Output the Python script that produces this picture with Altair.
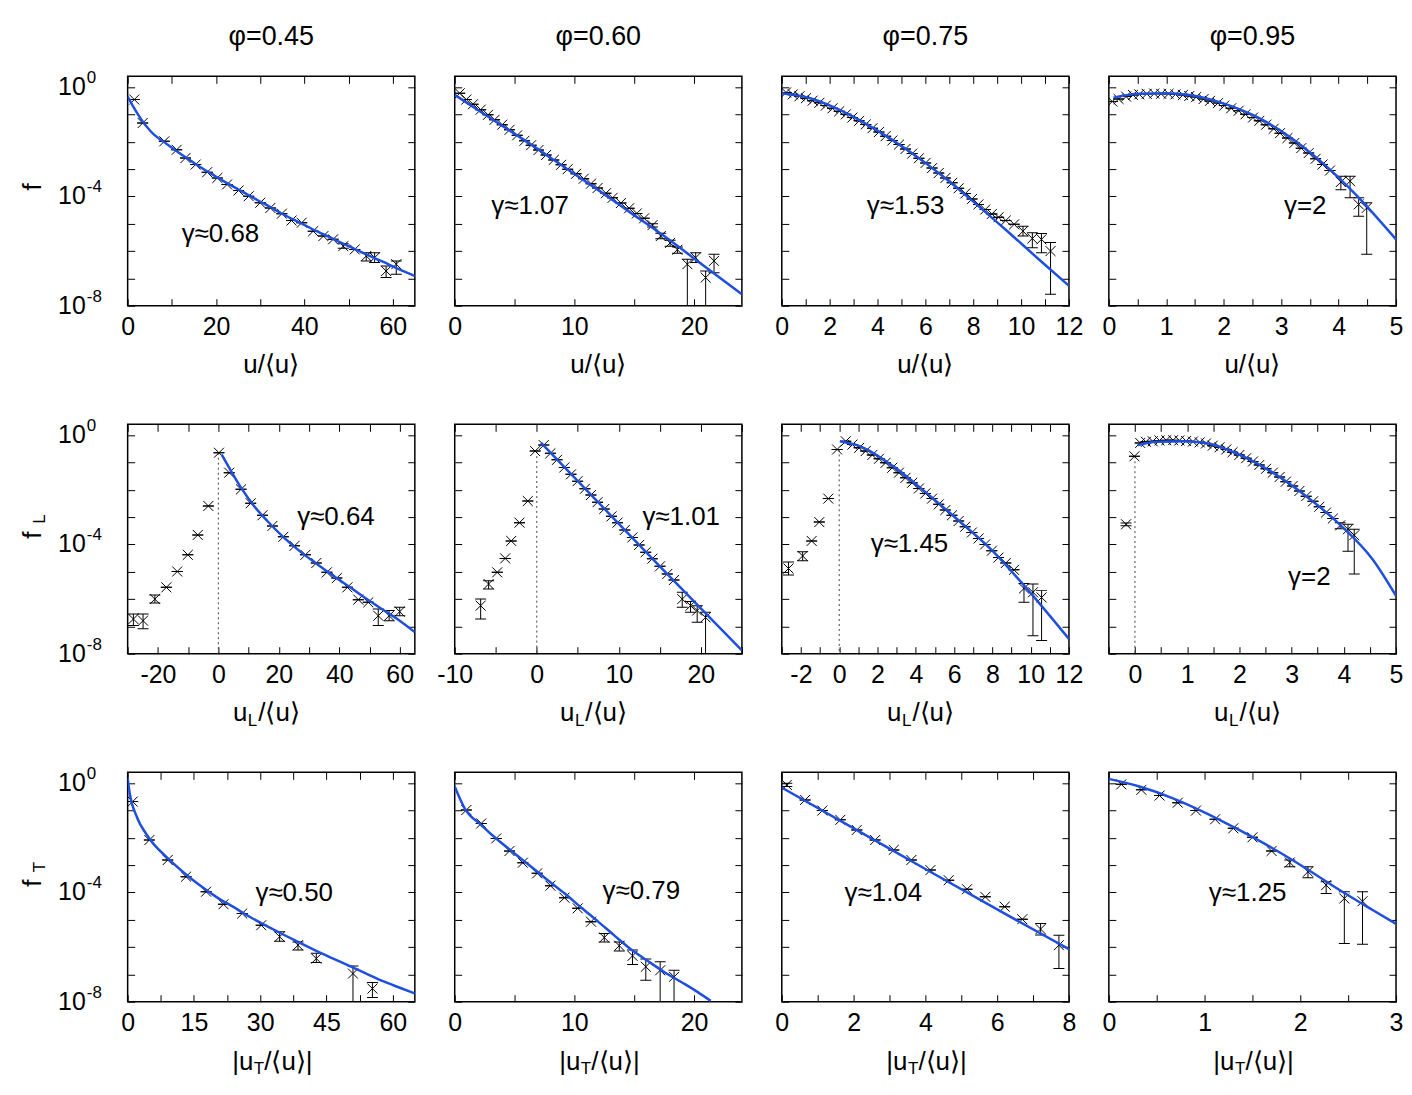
import json
import math
import altair as alt
import pandas as pd

FONT = "Liberation Sans"
W, H = 288, 230
FS = 25          # tick labels
FT = 26          # axis titles and annotations
FC = 27          # column titles
BLUE = "#1f4fe0"
YMIN, YMAX = 1e-8, 10 ** 0.4
XSHAPE = "M-1,-1L1,1M-1,1L1,-1"

# ---------------- titles / labels ----------------
phi_titles = ["φ=0.45", "φ=0.60", "φ=0.75", "φ=0.95"]
x_title_parts = [("u/⟨u⟩", "", ""), ("u", "L", "/⟨u⟩"), ("|u", "T", "/⟨u⟩|")]
y_title_parts = [("f", ""), ("f", "L"), ("f", "T")]
ylabel_exps = [0, -4, -8]

x_domains = [[(0, 65), (0, 24), (0, 12), (0, 5)],
             [(-30, 65), (-10, 25), (-3, 12), (-0.5, 5)],
             [(0, 65), (0, 24), (0, 8), (0, 3)]]
x_labels = [[[0, 20, 40, 60], [0, 10, 20], [0, 2, 4, 6, 8, 10, 12], [0, 1, 2, 3, 4, 5]],
            [[-20, 0, 20, 40, 60], [-10, 0, 10, 20], [-2, 0, 2, 4, 6, 8, 10, 12], [0, 1, 2, 3, 4, 5]],
            [[0, 15, 30, 45, 60], [0, 10, 20], [0, 2, 4, 6, 8], [0, 1, 2, 3]]]
x_minor = [[10, 5, 1, 0.5], [10, 5, 1, 0.5], [7.5, 5, 1, 0.5]]

gamma_texts = [["γ≈0.68", "γ≈1.07", "γ≈1.53", "γ=2"],
               ["γ≈0.64", "γ≈1.01", "γ≈1.45", "γ=2"],
               ["γ≈0.50", "γ≈0.79", "γ≈1.04", "γ≈1.25"]]
gamma_x = [[21.0, 6.3, 5.17, 3.42], [38.9, 17.6, 3.67, 3.34], [37.7, 15.6, 2.83, 1.45]]
gamma_lf = [[-5.38, -4.35, -4.35, -4.35], [-3.0, -3.0, -3.99, -5.19], [-4.01, -3.94, -4.01, -4.01]]

# ---------------- data (x, log10 f, error bars in log10 f, fit curve) ----------------
r1c1_x = [1.5, 3.4, 8.3, 11.1, 13.1, 15.4, 18.0, 20.3, 22.5, 25.1, 27.4, 30.0, 32.3, 34.9, 37.1, 39.4, 42.0,
          44.3, 46.5, 48.8, 51.4, 54.0, 55.9, 58.5, 60.8]
r1c1_lf = [-0.45, -1.31, -1.98, -2.29, -2.59, -2.83, -3.11, -3.32, -3.56, -3.78, -3.99, -4.23, -4.42, -4.63,
           -4.88, -4.96, -5.27, -5.45, -5.57, -5.82, -5.94, -6.18, -6.24, -6.73, -6.48]
r1c1_err = {19: (-5.73, -5.90), 21: (-6.06, -6.36), 22: (-6.06, -6.42), 23: (-6.55, -6.97), 24: (-6.36, -6.85)}
r1c1_fx = [0, 1.5, 3.4, 5.25, 9.0, 12.75, 16.5, 20.25, 24.0, 27.75, 31.5, 35.25, 39.0, 42.75, 46.5, 50.25,
           54.0, 57.75, 61.5, 65.0]
r1c1_flf = [-0.34, -0.77, -1.25, -1.62, -2.10, -2.53, -2.93, -3.30, -3.65, -3.99, -4.32, -4.66, -4.96, -5.27,
            -5.55, -5.84, -6.12, -6.39, -6.67, -6.91]

r1c2_x = [0.42, 0.97, 1.53, 2.17, 2.78, 3.33, 3.97, 4.58, 5.22, 5.83, 6.39, 7.0, 7.64, 8.28, 8.89, 9.44, 10.14,
          10.78, 11.39, 11.94, 12.64, 13.19, 13.89, 14.58, 15.22, 15.83, 16.53, 17.22, 18.0, 18.61, 19.44,
          20.14, 20.97, 21.67]
r1c2_lf = [-0.22, -0.45, -0.62, -0.82, -1.01, -1.19, -1.37, -1.56, -1.76, -1.96, -2.12, -2.30, -2.48, -2.66,
           -2.84, -3.00, -3.17, -3.35, -3.53, -3.69, -3.88, -4.05, -4.24, -4.43, -4.62, -4.80, -5.05, -5.45,
           -5.70, -5.95, -6.48, -6.24, -6.97, -6.36]
r1c2_err = {26: (-5.0, -5.12), 27: (-5.35, -5.55), 28: (-5.6, -5.82), 29: (-5.85, -6.08), 30: (-6.30, -9.0),
            31: (-6.06, -6.42), 32: (-6.73, -9.0), 33: (-6.12, -6.79)}
r1c2_fx = [0, 3.61, 6.39, 9.17, 11.94, 14.72, 17.5, 20.28, 24.0]
r1c2_flf = [-0.28, -1.31, -2.10, -2.93, -3.75, -4.60, -5.45, -6.36, -7.58]

r1c3_x = [0.18, 0.46, 0.74, 1.01, 1.29, 1.57, 1.84, 2.12, 2.40, 2.68, 2.95, 3.23, 3.51, 3.79, 4.06, 4.34, 4.62,
          4.90, 5.17, 5.45, 5.73, 6.01, 6.28, 6.56, 6.84, 7.12, 7.39, 7.67, 7.95, 8.22, 8.50, 8.78, 9.06, 9.36,
          9.71, 10.08, 10.47, 10.85, 11.23]
r1c3_lf = [-0.19, -0.26, -0.33, -0.40, -0.49, -0.57, -0.67, -0.77, -0.88, -0.99, -1.11, -1.23, -1.36, -1.50,
           -1.64, -1.79, -1.95, -2.10, -2.26, -2.43, -2.60, -2.77, -2.96, -3.14, -3.32, -3.50, -3.70, -3.89,
           -4.09, -4.29, -4.48, -4.64, -4.76, -4.88, -5.02, -5.27, -5.54, -5.57, -6.00]
r1c3_err = {35: (-5.09, -5.45), 36: (-5.33, -5.88), 37: (-5.36, -6.06), 38: (-5.69, -7.58)}
r1c3_fx = [0, 1.18, 2.57, 3.95, 5.34, 6.73, 8.11, 9.5, 10.89, 12.0]
r1c3_flf = [-0.22, -0.40, -0.89, -1.56, -2.35, -3.26, -4.27, -5.33, -6.42, -7.27]

r1c4_x = [0.06, 0.17, 0.30, 0.42, 0.53, 0.66, 0.79, 0.91, 1.04, 1.16, 1.29, 1.40, 1.52, 1.65, 1.76, 1.90, 2.01,
          2.13, 2.26, 2.38, 2.51, 2.62, 2.74, 2.87, 2.98, 3.11, 3.23, 3.35, 3.48, 3.60, 3.72, 3.85, 4.04, 4.20,
          4.35, 4.49]
r1c4_lf = [-0.52, -0.43, -0.34, -0.28, -0.26, -0.24, -0.23, -0.24, -0.24, -0.26, -0.28, -0.32, -0.36, -0.43,
           -0.50, -0.58, -0.67, -0.77, -0.86, -0.99, -1.11, -1.23, -1.37, -1.52, -1.68, -1.86, -2.04, -2.23,
           -2.41, -2.62, -2.83, -3.05, -3.47, -3.44, -4.29, -4.42]
r1c4_err = {32: (-3.26, -3.75), 33: (-3.26, -4.05), 34: (-4.05, -4.72), 35: (-4.23, -6.12)}
r1c4_fx = [0.08, 0.53, 1.0, 1.40, 1.98, 2.56, 3.14, 3.72, 4.30, 5.0]
r1c4_flf = [-0.38, -0.24, -0.22, -0.28, -0.58, -1.07, -1.80, -2.77, -3.93, -5.57]

r2c1_x = [-28.1, -24.9, -21.0, -17.2, -13.6, -10.1, -6.8, -3.3, 0.2, 3.6, 7.5, 10.7, 14.6, 17.9, 21.5, 25.2,
          28.8, 32.4, 35.9, 39.2, 42.7, 46.3, 49.6, 52.9, 56.5, 60.0]
r2c1_lf = [-6.73, -6.79, -6.0, -5.57, -4.99, -4.38, -3.65, -2.59, -0.64, -1.37, -1.98, -2.49, -2.93, -3.32,
           -3.72, -4.05, -4.38, -4.68, -5.02, -5.23, -5.57, -6.02, -6.12, -6.61, -6.61, -6.46]
r2c1_err = {0: (-6.55, -6.97), 1: (-6.55, -7.09), 2: (-5.85, -6.14), 23: (-6.36, -6.97), 24: (-6.42, -6.79),
            25: (-6.30, -6.61)}
r2c1_fx = [1.1, 4.2, 7.5, 11.8, 16.2, 21.7, 27.2, 32.7, 38.1, 43.6, 49.1, 54.6, 60.0, 65.0]
r2c1_flf = [-0.71, -1.31, -1.92, -2.59, -3.14, -3.75, -4.27, -4.72, -5.15, -5.57, -6.0, -6.40, -6.79, -7.21]

r2c2_x = [-6.84, -5.87, -4.82, -3.85, -3.12, -2.11, -1.09, -0.20, 0.85, 1.66, 2.47, 3.36, 4.17, 4.98, 5.87,
          6.60, 7.41, 8.22, 9.11, 9.84, 10.73, 11.66, 12.47, 13.28, 14.09, 15.02, 15.91, 16.72, 17.73, 18.74,
          19.55, 20.57]
r2c2_lf = [-6.24, -5.45, -5.02, -4.51, -3.87, -3.20, -2.41, -0.58, -0.36, -0.66, -0.90, -1.18, -1.43, -1.68,
           -1.96, -2.19, -2.45, -2.70, -2.97, -3.20, -3.47, -3.74, -4.02, -4.28, -4.52, -4.80, -5.08, -5.30,
           -6.0, -6.24, -6.42, -6.67]
r2c2_err = {0: (-6.0, -6.73), 1: (-5.33, -5.63), 28: (-5.75, -6.30), 29: (-6.09, -6.48), 30: (-6.24, -6.85),
            31: (-6.48, -9.0)}
r2c2_fx = [0.53, 7.41, 15.5, 25.0]
r2c2_flf = [-0.28, -2.43, -4.96, -7.88]

r2c3_x = [-2.65, -1.91, -1.44, -1.04, -0.57, -0.11, 0.34, 0.69, 1.04, 1.38, 1.73, 2.08, 2.42, 2.77, 3.12, 3.46,
          3.81, 4.16, 4.50, 4.85, 5.20, 5.54, 5.89, 6.24, 6.58, 6.93, 7.28, 7.62, 7.97, 8.32, 8.70, 9.13, 9.65,
          10.12, 10.57]
r2c3_lf = [-4.88, -4.42, -3.87, -3.18, -2.32, -0.52, -0.22, -0.34, -0.46, -0.58, -0.72, -0.86, -1.01, -1.19,
           -1.37, -1.56, -1.74, -1.95, -2.13, -2.32, -2.53, -2.74, -2.93, -3.14, -3.35, -3.56, -3.78, -4.0,
           -4.23, -4.48, -4.68, -4.93, -5.61, -5.75, -5.94]
r2c3_err = {0: (-4.64, -5.12), 1: (-4.27, -4.60), 32: (-5.43, -6.12), 33: (-5.45, -7.34), 34: (-5.69, -7.52)}
r2c3_fx = [0.03, 1.07, 2.81, 4.54, 6.27, 8.01, 9.74, 12.0]
r2c3_flf = [-0.22, -0.40, -1.13, -2.10, -3.14, -4.23, -5.57, -7.46]

r2c4_x = [-0.17, -0.01, 0.10, 0.21, 0.34, 0.47, 0.60, 0.73, 0.85, 0.98, 1.11, 1.24, 1.36, 1.49, 1.62, 1.75,
          1.87, 2.0, 2.13, 2.26, 2.38, 2.51, 2.64, 2.77, 2.89, 3.02, 3.15, 3.28, 3.41, 3.53, 3.66, 3.79, 3.93,
          4.08, 4.20]
r2c4_lf = [-3.26, -0.77, -0.28, -0.24, -0.22, -0.19, -0.18, -0.18, -0.19, -0.21, -0.23, -0.26, -0.30, -0.38,
           -0.44, -0.52, -0.62, -0.72, -0.84, -0.96, -1.09, -1.23, -1.37, -1.53, -1.70, -1.86, -2.04, -2.23,
           -2.42, -2.62, -2.83, -3.05, -3.30, -3.44, -3.66]
r2c4_err = {0: (-3.21, -3.31), 32: (-3.20, -3.42), 33: (-3.26, -4.25), 34: (-3.44, -5.08)}
r2c4_fx = [0.05, 0.41, 0.92, 1.36, 2.0, 2.64, 3.28, 3.92, 4.55, 5.0]
r2c4_flf = [-0.36, -0.24, -0.22, -0.28, -0.71, -1.37, -2.23, -3.26, -4.54, -5.88]

r3c1_x = [1.13, 4.91, 9.07, 13.23, 17.76, 21.69, 25.93, 30.23, 34.39, 38.55, 42.7, 51.0, 55.4]
r3c1_lf = [-0.67, -2.08, -2.81, -3.42, -3.97, -4.43, -4.77, -5.20, -5.62, -5.93, -6.42, -6.97, -7.52]
r3c1_err = {8: (-5.44, -5.79), 9: (-5.81, -6.11), 10: (-6.23, -6.56), 11: (-6.69, -9.0), 12: (-7.30, -7.85)}
r3c1_fx = [0, 0.53, 1.89, 4.91, 8.69, 12.47, 16.25, 20.03, 23.8, 27.6, 31.4, 35.1, 38.9, 42.7, 46.5, 50.3,
           54.0, 57.8, 61.6, 65.0]
r3c1_flf = [0.2, -0.43, -1.16, -2.02, -2.69, -3.24, -3.73, -4.16, -4.52, -4.89, -5.22, -5.53, -5.84, -6.14,
            -6.42, -6.70, -6.97, -7.25, -7.49, -7.70]

r3c2_x = [0.97, 2.22, 3.47, 4.58, 5.69, 6.89, 8.0, 9.17, 10.28, 11.39, 12.5, 13.75, 14.86, 15.97, 17.17, 18.33]
r3c2_lf = [-0.98, -1.47, -2.02, -2.48, -2.91, -3.30, -3.75, -4.19, -4.58, -5.07, -5.65, -5.95, -6.32, -6.72,
           -6.85, -7.09]
r3c2_err = {10: (-5.50, -5.81), 11: (-5.81, -6.14), 12: (-6.11, -6.64), 13: (-6.44, -7.21), 14: (-6.54, -9.0),
            15: (-6.85, -9.0)}
r3c2_fx = [0, 0.83, 2.22, 3.61, 5.0, 6.39, 7.78, 9.17, 10.56, 11.94, 13.33, 14.72, 16.11, 17.5, 18.89, 20.28,
           21.39]
r3c2_flf = [-0.12, -0.92, -1.53, -2.08, -2.57, -3.06, -3.55, -4.03, -4.55, -5.05, -5.57, -6.08, -6.50, -6.91,
            -7.27, -7.64, -7.97]

r3c3_x = [0.14, 0.65, 1.13, 1.63, 2.09, 2.60, 3.12, 3.61, 4.14, 4.65, 5.16, 5.67, 6.21, 6.70, 7.21, 7.72]
r3c3_lf = [-0.06, -0.61, -1.0, -1.34, -1.71, -2.08, -2.44, -2.81, -3.18, -3.55, -3.88, -4.16, -4.52, -4.98,
           -5.34, -5.93]
r3c3_err = {0: (0.0, -0.12), 14: (-5.14, -5.56), 15: (-5.57, -6.78)}
r3c3_fx = [0, 2.14, 4.0, 6.0, 8.0]
r3c3_flf = [-0.16, -1.75, -3.14, -4.62, -6.08]

r3c4_x = [0.13, 0.34, 0.53, 0.72, 0.91, 1.11, 1.30, 1.50, 1.70, 1.89, 2.08, 2.27, 2.46, 2.65]
r3c4_lf = [-0.04, -0.24, -0.45, -0.71, -1.0, -1.32, -1.65, -1.98, -2.48, -2.90, -3.24, -3.73, -4.22, -4.32]
r3c4_err = {9: (-2.81, -3.06), 10: (-3.06, -3.46), 11: (-3.61, -4.04), 12: (-3.97, -5.87), 13: (-3.97, -5.90)}
r3c4_fx = [0, 0.32, 0.67, 1.02, 1.36, 1.71, 2.06, 2.41, 2.76, 3.0]
r3c4_flf = [0.16, -0.12, -0.55, -1.10, -1.71, -2.38, -3.12, -3.91, -4.65, -5.15]

# top of the dotted line at u_L = 0 (row 2), log10 f
r2_dot_top = [-0.64, -0.58, -0.52, -0.77]

DATA = {
    (0, 0): (r1c1_x, r1c1_lf, r1c1_err, r1c1_fx, r1c1_flf),
    (0, 1): (r1c2_x, r1c2_lf, r1c2_err, r1c2_fx, r1c2_flf),
    (0, 2): (r1c3_x, r1c3_lf, r1c3_err, r1c3_fx, r1c3_flf),
    (0, 3): (r1c4_x, r1c4_lf, r1c4_err, r1c4_fx, r1c4_flf),
    (1, 0): (r2c1_x, r2c1_lf, r2c1_err, r2c1_fx, r2c1_flf),
    (1, 1): (r2c2_x, r2c2_lf, r2c2_err, r2c2_fx, r2c2_flf),
    (1, 2): (r2c3_x, r2c3_lf, r2c3_err, r2c3_fx, r2c3_flf),
    (1, 3): (r2c4_x, r2c4_lf, r2c4_err, r2c4_fx, r2c4_flf),
    (2, 0): (r3c1_x, r3c1_lf, r3c1_err, r3c1_fx, r3c1_flf),
    (2, 1): (r3c2_x, r3c2_lf, r3c2_err, r3c2_fx, r3c2_flf),
    (2, 2): (r3c3_x, r3c3_lf, r3c3_err, r3c3_fx, r3c3_flf),
    (2, 3): (r3c4_x, r3c4_lf, r3c4_err, r3c4_fx, r3c4_flf),
}

DECADES = [10.0 ** k for k in range(-8, 1)]
ONE = pd.DataFrame({"k": [0]})


def tick_values(xmin, xmax, step):
    k0 = math.ceil(xmin / step - 1e-9)
    vals = []
    k = k0
    while k * step <= xmax + 1e-9:
        v = round(k * step, 6)
        vals.append(int(v) if float(v).is_integer() else v)
        k += 1
    return vals


def txt(text, x, y, size=FT, align="center", angle=0, dy=0):
    return alt.Chart(ONE).mark_text(
        text=text, font=FONT, fontSize=size, align=align, baseline="middle",
        angle=angle, dy=dy, color="black"
    ).encode(x=alt.value(x), y=alt.value(y))


def make_panel(r, c):
    xs, lf, err, fx, flf = DATA[(r, c)]
    xmin, xmax = x_domains[r][c]
    xsc = alt.Scale(domain=[xmin, xmax], nice=False, zero=False)
    ysc = alt.Scale(type="log", domain=[YMIN, YMAX], nice=False)
    ticks = tick_values(xmin, xmax, x_minor[r][c])
    lab_expr = "indexof(%s, datum.value) >= 0 ? '' + datum.value : ''" % json.dumps(x_labels[r][c])

    common = dict(grid=False, domain=False, tickSize=7, offset=-7, tickColor="black", tickWidth=1, title=None)
    ax_bottom = alt.Axis(orient="bottom", values=ticks, labelExpr=lab_expr, labelPadding=9,
                         labelFontSize=FS, labelFont=FONT, labelColor="black",
                         labelOverlap=False, labelFlush=False, **common)
    ax_top = alt.Axis(orient="top", values=ticks, labels=False, **common)
    ax_left = alt.Axis(orient="left", values=DECADES, labels=False, **common)
    ax_right = alt.Axis(orient="right", values=DECADES, labels=False, **common)

    pts = pd.DataFrame({"x": xs, "f": [10.0 ** v for v in lf]})
    lo, hi = [], []
    for i, v in enumerate(lf):
        a, b = err.get(i, (v, v))
        lo.append(10.0 ** min(a, b))
        hi.append(10.0 ** max(a, b))
    ebar = pd.DataFrame({"x": xs, "lo": lo, "hi": hi})
    caps = pd.DataFrame({"x": list(xs) + list(xs), "v": lo + hi})
    fit = pd.DataFrame({"x": fx, "f": [10.0 ** v for v in flf]})

    X = lambda f, ax=None: alt.X(f, scale=xsc, axis=ax)
    Y = lambda f, ax=None: alt.Y(f, scale=ysc, axis=ax)

    layers = []
    if r == 1:
        dot = pd.DataFrame({"x": [0.0], "top": [10.0 ** r2_dot_top[c]], "bot": [YMIN]})
        layers.append(alt.Chart(dot).mark_rule(color="#444444", strokeWidth=1, strokeDash=[2, 3]).encode(
            x=X("x:Q"), y=Y("top:Q"), y2="bot:Q"))
    layers.append(alt.Chart(ebar).mark_rule(color="black", strokeWidth=1, clip=True).encode(
        x=X("x:Q"), y=Y("lo:Q"), y2="hi:Q"))
    layers.append(alt.Chart(caps).mark_tick(orient="horizontal", size=11, thickness=1, color="black",
                                            opacity=1, clip=True).encode(x=X("x:Q"), y=Y("v:Q")))
    layers.append(alt.Chart(pts).mark_point(shape=XSHAPE, size=100, filled=False, stroke="black",
                                            strokeWidth=1, opacity=1, clip=True).encode(
        x=X("x:Q", ax_bottom), y=Y("f:Q", ax_left)))
    layers.append(alt.Chart(fit).mark_line(color=BLUE, strokeWidth=2.5, interpolate="monotone",
                                           clip=True).encode(x=X("x:Q", ax_top), y=Y("f:Q", ax_right)))
    gdf = pd.DataFrame({"x": [gamma_x[r][c]], "f": [10.0 ** gamma_lf[r][c]], "t": [gamma_texts[r][c]]})
    layers.append(alt.Chart(gdf).mark_text(font=FONT, fontSize=FT, align="center", baseline="middle",
                                           color="black").encode(x=X("x:Q"), y=Y("f:Q"), text="t:N"))

    # column title
    if r == 0:
        layers.append(txt(phi_titles[c], W / 2, -39, size=FC))

    # x axis title
    main, sub, rest = x_title_parts[r]
    ty = H + 60
    if not sub:
        layers.append(txt(main, W / 2, ty))
    else:
        j = W / 2 - (24 if r == 1 else 18)
        layers.append(txt(main, j, ty, align="right"))
        layers.append(txt(sub, j + 0.5, ty, size=17, align="left", dy=8))
        layers.append(txt(rest, j + 11, ty, align="left"))

    if c == 0:
        ymain, ysub = y_title_parts[r]
        layers.append(txt(ymain, -95, H / 2 - 4, angle=270))
        if ysub:
            layers.append(txt(ysub, -88, H / 2 - 20, size=17, angle=270))
        yl = pd.DataFrame({"f": [10.0 ** e for e in ylabel_exps], "e": [str(e) for e in ylabel_exps]})
        layers.append(alt.Chart(yl).mark_text(text="10", font=FONT, fontSize=FS, align="right",
                                              baseline="middle", color="black").encode(
            x=alt.value(-42), y=Y("f:Q")))
        layers.append(alt.Chart(yl).mark_text(font=FONT, fontSize=17, align="left", baseline="middle",
                                              dy=-9, color="black").encode(
            x=alt.value(-41), y=Y("f:Q"), text="e:N"))

    ch = alt.layer(*layers).resolve_axis(x="independent", y="independent")
    return ch.properties(width=W, height=H)


panels = [make_panel(r, c) for r in range(3) for c in range(4)]
chart = alt.concat(*panels, columns=4, spacing={"row": 119, "column": 40}, bounds="flush").properties(
    padding={"left": 11, "top": 13, "right": 0, "bottom": 5}
).configure(font=FONT).configure_view(stroke="black", strokeWidth=1.5)

chart.save("out.html", embed_options={"renderer": "svg", "actions": False})
